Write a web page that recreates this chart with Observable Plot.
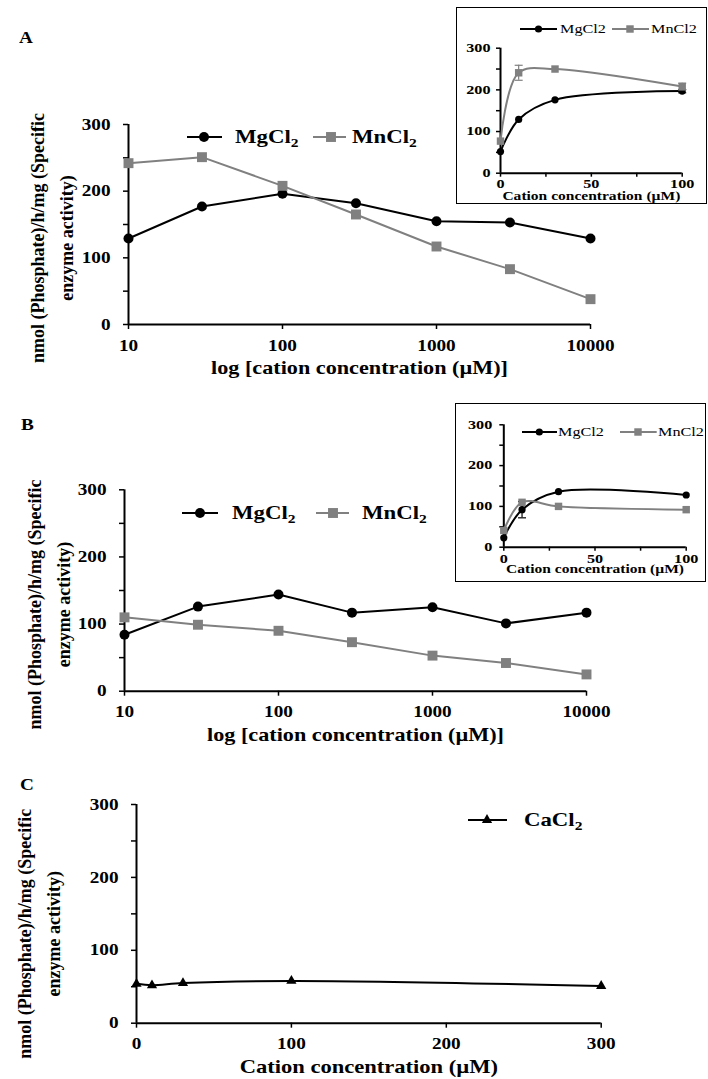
<!DOCTYPE html>
<html><head><meta charset="utf-8">
<script src="https://cdn.jsdelivr.net/npm/d3@7"></script>
<script src="https://cdn.jsdelivr.net/npm/@observablehq/plot@0.6"></script>
<style>
html,body{margin:0;padding:0;background:#fff;}
#root{position:relative;width:708px;height:1079px;overflow:hidden;font-family:"Liberation Serif","Times New Roman",serif;color:#000;}
.abs{position:absolute;}
.lbl{position:absolute;white-space:nowrap;line-height:1;transform-origin:0 50%;}
.sub{font-size:0.68em;position:relative;top:0.32em;}
</style></head><body><div id="root"></div>
<script>
// ---------------- data ----------------
const seriesNames = ["MgCl2", "MnCl2"];
const caName = "CaCl2";
const concLog = [10, 30, 100, 300, 1000, 3000, 10000];
const mgA = [129, 177, 196, 182, 155, 153, 129];
const mnA = [242, 251, 208, 165, 117, 83, 38];
const mgB = [84, 126, 144, 117, 125, 101, 117];
const mnB = [110, 99, 90, 73, 53, 42, 25];
const concInset = [0, 10, 30, 100];
const mgInsetA = [52, 129, 176, 197];
const mgInsetAErr = [0, 0, 0, 4];
const mnInsetA = [77, 241, 250, 208];
const mnInsetAErr = [0, 18, 0, 8];
const mgInsetB = [23, 92, 136, 128];
const mgInsetBErr = [0, 20, 0, 0];
const mnInsetB = [41, 110, 100, 92];
const mnInsetBErr = [0, 0, 0, 0];
const concC = [0, 10, 30, 100, 300];
const caC = [54, 52, 55, 58, 51];

const yTicks = [0, 50, 100, 150, 200, 250, 300];
const yTickLabels = ["0", "", "100", "", "200", "", "300"];
const logTicks = [10, 100, 1000, 10000];
const logTickLabels = ["10", "100", "1000", "10000"];
const insetXTicks = [0, 25, 50, 75, 100];
const insetXTickLabels = ["0", "", "50", "", "100"];
const cXTicks = [0, 100, 200, 300];
const cXTickLabels = ["0", "100", "200", "300"];

const yTitle = "nmol (Phosphate)/h/mg (Specific\nenzyme activity)";
const xTitleLog = "log [cation concentration (\u00b5M)]";
const xTitleLin = "Cation concentration (\u00b5M)";
const panelLabels = ["A", "B", "C"];

// ---------------- helpers ----------------
const GRAY = "#808080";
const FONT = '"Liberation Serif","Times New Roman",serif';
const root = document.getElementById("root");
const STRETCH = 1.2;
const STRETCH_INSET = 1.35;

function stretchText(svg, s) {
  svg.querySelectorAll("text").forEach(t => {
    const tr = t.getAttribute("transform") || "";
    if (tr.includes("rotate")) return;
    if (tr) t.setAttribute("transform", tr + ` scale(${s},1)`);
    else {
      const x = parseFloat(t.getAttribute("x")) || 0;
      t.setAttribute("transform", `translate(${x},0) scale(${s},1) translate(${-x},0)`);
    }
  });
}

const capSymbol = { draw(ctx) { ctx.moveTo(-4, 0); ctx.lineTo(4, 0); } };

function panel(o) {
  const marks = [
    Plot.axisY({ticks: yTicks, tickFormat: d => yTickLabels[yTicks.indexOf(d)], tickSize: o.tick, tickPadding: o.yPad,
      strokeWidth: 1.5, fontSize: o.tickFs, fontWeight: "bold", label: null}),
    Plot.axisX({ticks: o.xTicks, tickFormat: d => o.xLabels[o.xTicks.indexOf(d)], tickSize: o.tick, tickPadding: o.xPad,
      strokeWidth: 1.5, fontSize: o.tickFs, fontWeight: "bold", label: null}),
    Plot.ruleX([o.xDomain[0]], {strokeWidth: 2}),
    Plot.ruleY([0], {strokeWidth: 2})
  ];
  for (const s of o.series) {
    const rows = o.x.map((x, i) => ({x, y: s.y[i], e: s.e ? s.e[i] : 0}));
    marks.push(Plot.line(rows, {x: "x", y: "y", stroke: s.color, strokeWidth: o.lineW, curve: o.curve}));
    const er = rows.filter(d => d.e > 0);
    if (er.length) {
      marks.push(Plot.ruleX(er, {x: "x", y1: d => d.y - d.e, y2: d => d.y + d.e, stroke: s.color, strokeWidth: 1.2}));
      const caps = er.flatMap(d => [{x: d.x, y: d.y - d.e}, {x: d.x, y: d.y + d.e}]);
      marks.push(Plot.dot(caps, {x: "x", y: "y", symbol: capSymbol, r: 3, fill: "none", stroke: s.color, strokeWidth: 1.2}));
    }
    marks.push(Plot.dot(rows, {x: "x", y: "y", symbol: s.symbol, r: s.r, fill: s.color, stroke: "none"}));
  }
  marks.push(Plot.text([o.xTitle], {frameAnchor: "bottom", dy: o.xTitleDy, lineAnchor: "middle", fontSize: o.xTitleFs, fontWeight: "bold"}));
  if (o.yTitleFs) marks.push(Plot.text([yTitle], {frameAnchor: "left", rotate: -90, dx: o.yTitleDx, dy: o.yTitleDy,
      lineAnchor: "middle", textAnchor: "middle", lineHeight: o.yTitleLH, fontSize: o.yTitleFs, fontWeight: "bold"}));
  const svg = Plot.plot({
    width: o.width, height: o.height,
    marginLeft: o.m[0], marginRight: o.m[1], marginTop: o.m[2], marginBottom: o.m[3],
    style: `font-family:${FONT};font-size:14px;color:#000;background:transparent;max-width:none;overflow:visible;`,
    x: {type: o.xType || "linear", domain: o.xDomain, label: null},
    y: {domain: [0, 300], label: null},
    marks
  });
  stretchText(svg, o.stretch);
  const d = document.createElement("div");
  d.className = "abs";
  d.style.left = o.left + "px"; d.style.top = o.top + "px";
  d.style.width = o.width + "px"; d.style.height = o.height + "px";
  d.appendChild(svg);
  root.appendChild(d);
}

function box(left, top, w, h) {
  const d = document.createElement("div");
  d.className = "abs";
  Object.assign(d.style, {left: left + "px", top: top + "px", width: w + "px", height: h + "px",
    boxSizing: "border-box", border: "1.5px solid #000", background: "#fff"});
  root.appendChild(d);
}

function swatch(x1, x2, y, mx, color, symbol, r, sw) {
  const svg = d3.create("svg").attr("width", x2 - x1).attr("height", 24)
    .style("position", "absolute").style("left", x1 + "px").style("top", (y - 12) + "px").style("overflow", "visible");
  svg.append("line").attr("x1", 0).attr("x2", x2 - x1).attr("y1", 12).attr("y2", 12).attr("stroke", color).attr("stroke-width", sw);
  svg.append("path").attr("d", d3.symbol(symbol, Math.PI * r * r)()).attr("transform", `translate(${mx - x1},12)`).attr("fill", color);
  root.appendChild(svg.node());
}
function label(html, x, y, fs, weight, s) {
  const d = document.createElement("div");
  d.className = "lbl";
  d.style.left = x + "px"; d.style.top = (y - fs * 0.51) + "px";
  d.style.fontSize = fs + "px"; d.style.fontWeight = weight;
  d.style.transform = `scaleX(${s})`;
  d.innerHTML = html;
  root.appendChild(d);
}
const subName = n => n.replace(/2$/, '<span class="sub">2</span>');

// ---------------- panel A ----------------
panel({left: 0, top: 0, width: 708, height: 385, m: [128, 118, 124, 61], stretch: STRETCH,
  xType: "log", xDomain: [10, 10000], xTicks: logTicks, xLabels: logTickLabels, x: concLog,
  tick: 5, yPad: 13, xPad: 10, tickFs: 16, lineW: 2, curve: "linear",
  series: [{y: mgA, color: "#000", symbol: "circle", r: 5}, {y: mnA, color: GRAY, symbol: "square", r: 5.6}],
  xTitle: xTitleLog, xTitleDy: 44, xTitleFs: 18.5, yTitleFs: 18, yTitleDx: -79, yTitleDy: 13.5, yTitleLH: 1.6});

box(456, 7, 251, 197);
panel({left: 456, top: 7, width: 251, height: 197, m: [44, 25.3, 40.7, 31.3], stretch: STRETCH_INSET,
  xDomain: [0, 100], xTicks: insetXTicks, xLabels: insetXTickLabels, x: concInset,
  tick: 4, yPad: 6, xPad: 2.5, tickFs: 12, lineW: 2, curve: "catmull-rom",
  series: [{y: mgInsetA, e: mgInsetAErr, color: "#000", symbol: "circle", r: 3.6}, {y: mnInsetA, e: mnInsetAErr, color: GRAY, symbol: "square", r: 4.2}],
  xTitle: xTitleLin, xTitleDy: 23, xTitleFs: 11.5});

// ---------------- panel B ----------------
panel({left: 0, top: 380, width: 708, height: 390, m: [124, 122, 109.3, 79.3], stretch: STRETCH,
  xType: "log", xDomain: [10, 10000], xTicks: logTicks, xLabels: logTickLabels, x: concLog,
  tick: 5, yPad: 13, xPad: 9, tickFs: 16, lineW: 2, curve: "linear",
  series: [{y: mgB, color: "#000", symbol: "circle", r: 5}, {y: mnB, color: GRAY, symbol: "square", r: 5.6}],
  xTitle: xTitleLog, xTitleDy: 44, xTitleFs: 18.5, yTitleFs: 18, yTitleDx: -78.5, yTitleDy: 14, yTitleLH: 1.6});

box(455, 403, 251, 179);
panel({left: 455, top: 403, width: 251, height: 179, m: [48.3, 20.3, 21.3, 35.3], stretch: STRETCH_INSET,
  xDomain: [0, 100], xTicks: insetXTicks, xLabels: insetXTickLabels, x: concInset,
  tick: 4, yPad: 7.5, xPad: 3, tickFs: 12, lineW: 2, curve: "catmull-rom",
  series: [{y: mgInsetB, e: mgInsetBErr, color: "#000", symbol: "circle", r: 3.6}, {y: mnInsetB, e: mnInsetBErr, color: GRAY, symbol: "square", r: 4.2}],
  xTitle: xTitleLin, xTitleDy: 22.5, xTitleFs: 11.5});

// ---------------- panel C ----------------
panel({left: 0, top: 770, width: 708, height: 309, m: [136, 107.3, 34, 56.3], stretch: STRETCH,
  xDomain: [0, 300], xTicks: cXTicks, xLabels: cXTickLabels, x: concC,
  tick: 5, yPad: 13, xPad: 9, tickFs: 16, lineW: 2, curve: "catmull-rom",
  series: [{y: caC, color: "#000", symbol: "triangle", r: 3.8}],
  xTitle: xTitleLin, xTitleDy: 44, xTitleFs: 18.8, yTitleFs: 18, yTitleDx: -100, yTitleDy: 20, yTitleLH: 1.6});

// ---------------- legends & panel labels ----------------
swatch(187, 222, 137, 204, "#000", d3.symbolCircle, 5, 2);
label(subName(seriesNames[0]), 235, 137, 19, "bold", STRETCH);
swatch(313, 346, 137, 331, GRAY, d3.symbolSquare, 5.6, 2);
label(subName(seriesNames[1]), 352, 137, 19, "bold", STRETCH);

swatch(182, 218, 512.7, 200, "#000", d3.symbolCircle, 5, 2);
label(subName(seriesNames[0]), 232, 512.7, 19, "bold", STRETCH);
swatch(316, 349, 512.7, 333, GRAY, d3.symbolSquare, 5.6, 2);
label(subName(seriesNames[1]), 362, 512.7, 19, "bold", STRETCH);

swatch(520, 557, 29, 538.5, "#000", d3.symbolCircle, 3.6, 2);
label(seriesNames[0], 560, 29, 13.5, "normal", STRETCH);
swatch(612, 649, 29, 630, GRAY, d3.symbolSquare, 4.2, 2);
label(seriesNames[1], 651, 29, 13.5, "normal", STRETCH);

swatch(521.7, 556.7, 431.7, 539, "#000", d3.symbolCircle, 3.6, 2);
label(seriesNames[0], 558, 431.7, 13.5, "normal", STRETCH);
swatch(620, 656.7, 431.7, 638, GRAY, d3.symbolSquare, 4.2, 2);
label(seriesNames[1], 658, 431.7, 13.5, "normal", STRETCH);

swatch(468, 507, 820, 487, "#000", d3.symbolTriangle, 3.8, 2);
label(subName(caName), 524, 820, 19, "bold", STRETCH);

label(panelLabels[0], 19, 38, 16, "bold", STRETCH);
label(panelLabels[1], 21, 425, 16, "bold", STRETCH);
label(panelLabels[2], 20, 785, 16, "bold", STRETCH);
</script></body></html>
